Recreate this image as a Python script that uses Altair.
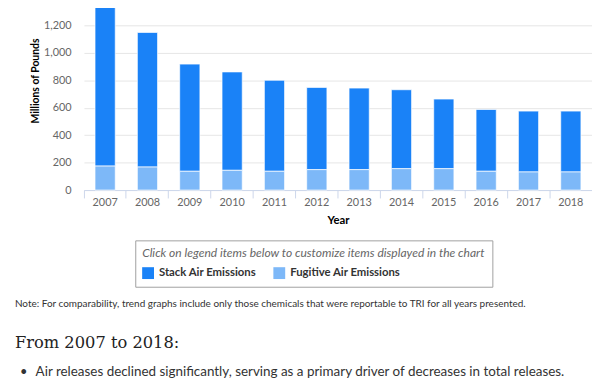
import altair as alt
import pandas as pd

# ---- data ----
years = ["2007", "2008", "2009", "2010", "2011", "2012",
         "2013", "2014", "2015", "2016", "2017", "2018"]
stack_air = [1157, 982, 782, 718, 664, 600, 595, 576, 508, 451, 444, 444]
fugitive_air = [175, 168, 137, 144, 137, 149, 149, 156, 156, 137, 132, 132]
series_names = ["Stack Air Emissions", "Fugitive Air Emissions"]
series_colors = ["#1a82f7", "#7db8f8"]
y_ticks = [0, 200, 400, 600, 800, 1000, 1200]

legend_title = "Click on legend items below to customize items displayed in the chart"
note_text = ("Note: For comparability, trend graphs include only those chemicals "
             "that were reportable to TRI for all years presented.")
heading_text = "From 2007 to 2018:"
bullet_text = ("Air releases declined significantly, serving as a primary driver "
               "of decreases in total releases.")

rows = []
for i, yr in enumerate(years):
    rows.append({"Year": yr, "Series": series_names[0], "Value": stack_air[i], "Order": 1})
    rows.append({"Year": yr, "Series": series_names[1], "Value": fugitive_air[i], "Order": 0})
df = pd.DataFrame(rows)

FONT = "Lato"

bars = alt.Chart(df).mark_bar(width=20.5, stroke="white", strokeWidth=1, strokeOpacity=0.7).encode(
    x=alt.X("Year:N", sort=years,
            scale=alt.Scale(paddingInner=0, paddingOuter=0),
            axis=alt.Axis(title="Year", labelAngle=0, domainColor="#ccd6eb", tickColor="#ccd6eb",
                          tickSize=8, bandPosition=0, labelPadding=-1, grid=False,
                          labelFont=FONT, labelFontSize=11, labelColor="#666666",
                          titleFont=FONT, titleFontSize=11.5, titleFontWeight="bold", titleColor="#000000",
                          titleY=31, titleBaseline="middle")),
    y=alt.Y("Value:Q", stack="zero",
            scale=alt.Scale(domain=[0, 1310], nice=False, zero=True),
            axis=alt.Axis(values=y_ticks, format=",.0f", grid=True, gridColor="#e6e6e6",
                          domain=False, ticks=False, labelPadding=13,
                          labelFont=FONT, labelFontSize=11, labelColor="#666666",
                          title="Millions of Pounds", titleFont=FONT, titleFontSize=10.5,
                          titleFontWeight="bold", titleColor="#000000",
                          titleX=-49, titleY=71, titleAngle=270,
                          titleAlign="center", titleBaseline="middle")),
    color=alt.Color("Series:N",
                    scale=alt.Scale(domain=series_names, range=series_colors),
                    legend=alt.Legend(title=legend_title, orient="none", legendX=52, legendY=233,
                                      direction="horizontal",
                                      titleFont=FONT, titleFontSize=12.2, titleFontStyle="italic",
                                      titleFontWeight="normal", titleColor="#666666", titleLimit=0,
                                      labelFont=FONT, labelFontSize=11.5, labelFontWeight="bold",
                                      labelColor="#333333", labelOffset=5, labelLimit=0,
                                      symbolType="square", symbolSize=144, symbolStrokeWidth=0,
                                      symbolOpacity=1,
                                      strokeColor="#a0a0a0", fillColor="#ffffff", padding=7,
                                      columnPadding=17, titlePadding=8)),
    order=alt.Order("Order:Q", sort="ascending"),
)


def text_layer(txt, x, y, **kw):
    return alt.Chart(pd.DataFrame({"t": [txt]})).mark_text(baseline="middle", **kw).encode(
        x=alt.value(x), y=alt.value(y), text="t:N")


note = text_layer(note_text, -70, 298, align="left", font=FONT, fontSize=10.1, color="#333333")
heading = text_layer(heading_text, -70, 337, align="left", font="DejaVu Serif", fontSize=16.5,
                     color="#222222")
bullet = text_layer("\u2022", -61, 366, align="center", font=FONT, fontSize=13, color="#333333")
bullet_t = text_layer(bullet_text, -49, 366, align="left", font=FONT, fontSize=13.6, color="#333333")

chart = alt.layer(bars, note, heading, bullet, bullet_t).properties(
    width=515, height=182,
    padding={"left": 77, "top": 0, "right": 0, "bottom": 190},
    autosize=alt.AutoSizeParams(type="none"),
).configure_view(stroke=None)

chart.save("out.html", embed_options={"renderer": "svg", "actions": False})
